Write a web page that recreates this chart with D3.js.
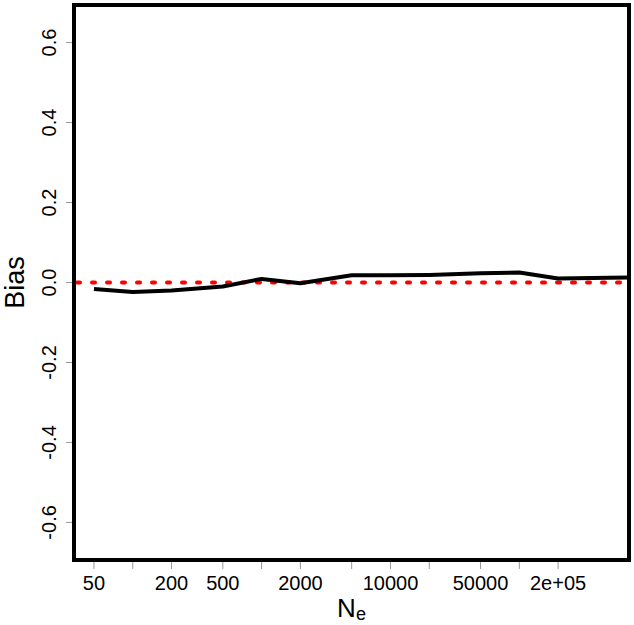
<!DOCTYPE html>
<html>
<head>
<meta charset="utf-8">
<script src="https://cdn.jsdelivr.net/npm/d3@7"></script>
<style>
  body { margin: 0; background: #fff; }
  text { font-family: "Liberation Sans", Arial, sans-serif; }
</style>
</head>
<body>
<div id="chart"></div>
<script>
// effective population size and estimated bias
const ne = [50, 100, 200, 500, 1000, 2000, 5000, 10000, 20000, 50000, 100000, 200000, 500000, 1000000];
const bias = [-0.016, -0.024, -0.020, -0.010, 0.009, -0.002, 0.018, 0.018, 0.019, 0.023, 0.025, 0.010, 0.012, 0.013];

const xTicks = [50, 100, 200, 500, 1000, 2000, 5000, 10000, 20000, 50000, 100000, 200000];
const xLabels = ["50", "", "200", "500", "", "2000", "", "10000", "", "50000", "", "2e+05"];
const yTicks = [-0.6, -0.4, -0.2, 0.0, 0.2, 0.4, 0.6];

const W = 634, H = 625;
const plot = { left: 74, right: 629, top: 5, bottom: 560 };

const svg = d3.select("#chart")
  .append("svg")
  .attr("width", W)
  .attr("height", H);

svg.append("rect").attr("width", W).attr("height", H).attr("fill", "#fff");

// log x, padded like R does (4% each side)
const x = d3.scaleLog()
  .domain([35, 710000])
  .range([plot.left, plot.right]);

const y = d3.scaleLinear()
  .domain([-0.694, 0.694])
  .range([plot.bottom, plot.top]);

svg.append("clipPath").attr("id", "clip")
  .append("rect")
  .attr("x", plot.left).attr("y", plot.top)
  .attr("width", plot.right - plot.left)
  .attr("height", plot.bottom - plot.top);

// x axis ticks and labels
const xAxis = svg.append("g");
xAxis.selectAll("line")
  .data(xTicks)
  .join("line")
  .attr("x1", d => x(d)).attr("x2", d => x(d))
  .attr("y1", plot.bottom + 2).attr("y2", plot.bottom + 9)
  .attr("stroke", "#999").attr("stroke-width", 1);
xAxis.selectAll("text")
  .data(xTicks)
  .join("text")
  .attr("x", d => x(d))
  .attr("y", 590)
  .attr("text-anchor", "middle")
  .attr("font-size", 20)
  .attr("fill", "#000")
  .text((d, i) => xLabels[i]);

// y axis ticks and labels (rotated, like R's las=0)
const yAxis = svg.append("g");
yAxis.selectAll("line")
  .data(yTicks)
  .join("line")
  .attr("x1", plot.left - 8).attr("x2", plot.left - 1)
  .attr("y1", d => y(d)).attr("y2", d => y(d))
  .attr("stroke", "#999").attr("stroke-width", 1);
yAxis.selectAll("text")
  .data(yTicks)
  .join("text")
  .attr("transform", d => `translate(56,${y(d)}) rotate(-90)`)
  .attr("text-anchor", "middle")
  .attr("font-size", 20)
  .attr("fill", "#000")
  .text(d => d3.format(".1f")(d).replace("−", "-"));

// reference line at zero
svg.append("line")
  .attr("clip-path", "url(#clip)")
  .attr("x1", plot.left + 3).attr("x2", plot.right)
  .attr("y1", y(0)).attr("y2", y(0))
  .attr("stroke", "#ff0000")
  .attr("stroke-width", 4)
  .attr("stroke-linecap", "round")
  .attr("stroke-dasharray", "3,12");

// bias curve
const line = d3.line()
  .x((d, i) => x(ne[i]))
  .y(d => y(d));

svg.append("path")
  .datum(bias)
  .attr("clip-path", "url(#clip)")
  .attr("d", line)
  .attr("fill", "none")
  .attr("stroke", "#000")
  .attr("stroke-width", 4)
  .attr("stroke-linejoin", "round");

// box
svg.append("rect")
  .attr("x", plot.left).attr("y", plot.top)
  .attr("width", plot.right - plot.left)
  .attr("height", plot.bottom - plot.top)
  .attr("fill", "none")
  .attr("stroke", "#000")
  .attr("stroke-width", 4);

// axis titles
svg.append("text")
  .attr("transform", `translate(24,${(plot.top + plot.bottom) / 2}) rotate(-90)`)
  .attr("text-anchor", "middle")
  .attr("font-size", 27)
  .text("Bias");

const xt = svg.append("text")
  .attr("x", (plot.left + plot.right) / 2)
  .attr("y", 617)
  .attr("text-anchor", "middle")
  .attr("font-size", 26);
xt.append("tspan").text("N");
xt.append("tspan").attr("font-size", 18).attr("dy", 3).text("e");
</script>
</body>
</html>
